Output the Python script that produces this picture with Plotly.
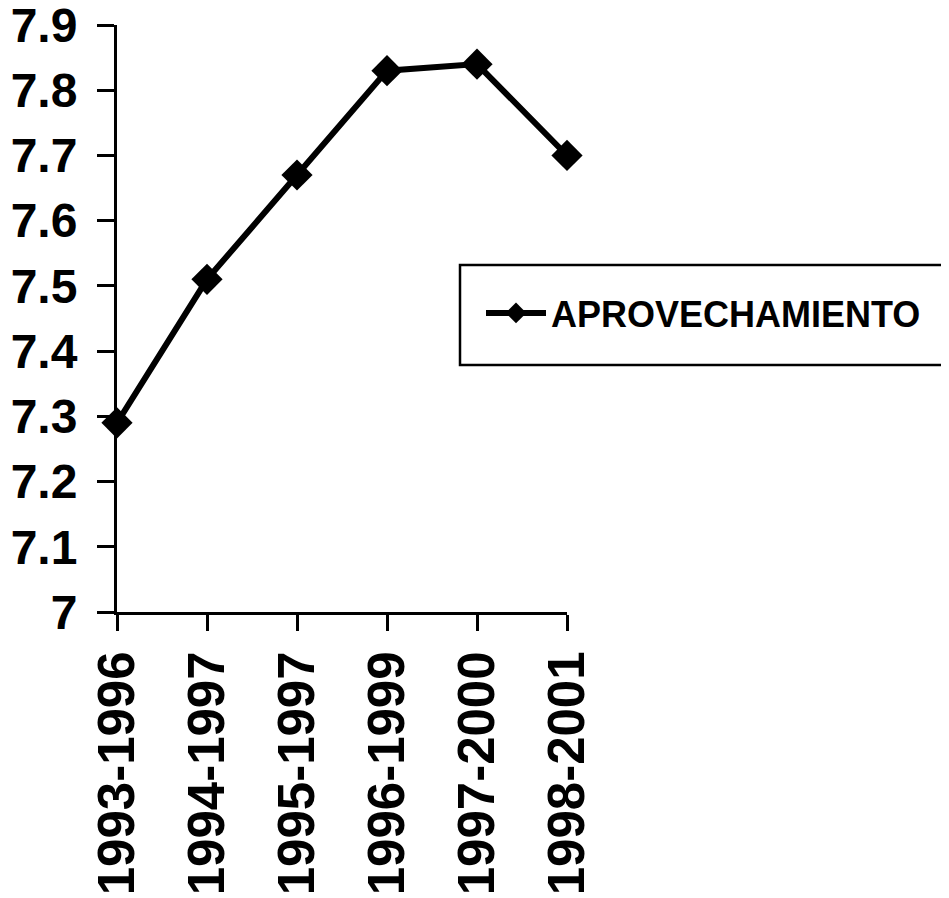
import plotly.graph_objects as go

categories = ["1993-1996", "1994-1997", "1995-1997", "1996-1999", "1997-2000", "1998-2001"]
values = [7.29, 7.51, 7.67, 7.83, 7.84, 7.70]
series_name = "APROVECHAMIENTO"
y_ticks = [7, 7.1, 7.2, 7.3, 7.4, 7.5, 7.6, 7.7, 7.8, 7.9]
y_tick_labels = ["7", "7.1", "7.2", "7.3", "7.4", "7.5", "7.6", "7.7", "7.8", "7.9"]

FONT = "Liberation Sans, Arial, sans-serif"

# page body has an 8px margin; work in window pixels minus 8
OFF = 8
L, T, PW, PH = 117 - OFF, 25 - OFF, 450, 587
W, H = 949 - OFF, 898 - OFF


def px_x(x):
    return (x - OFF - L) / PW


def px_y(y):
    return (T + PH - (y - OFF)) / PH


fig = go.Figure()
fig.add_trace(go.Scatter(
    x=categories, y=values, name=series_name, mode="lines+markers",
    line=dict(color="black", width=6),
    marker=dict(symbol="diamond", size=24, color="black"),
    cliponaxis=False,
))

# legend frame
fig.add_shape(type="rect", xref="paper", yref="paper",
              x0=px_x(460), x1=px_x(943), y0=px_y(365), y1=px_y(265),
              line=dict(color="black", width=2.5), fillcolor="rgba(0,0,0,0)")

fig.update_layout(
    width=W, height=H,
    margin=dict(l=L, r=W - L - PW, t=T, b=H - T - PH, pad=0),
    paper_bgcolor="white", plot_bgcolor="white",
    showlegend=True,
    legend=dict(x=px_x(481), xanchor="left", y=px_y(313), yanchor="middle",
                font=dict(family=FONT, size=36, color="black", weight="bold"),
                bgcolor="rgba(0,0,0,0)", borderwidth=0, itemwidth=60),
    xaxis=dict(type="category", range=[0, 5], showgrid=False, showline=True,
               linecolor="black", linewidth=3, ticks="outside", ticklen=16,
               tickwidth=3, tickcolor="black", tickangle=-90,
               ticklabelstandoff=0, automargin=False, ticklabeloverflow="allow",
               tickfont=dict(family=FONT, size=51, color="black", weight="bold"),
               zeroline=False),
    yaxis=dict(range=[7, 7.9], tickvals=y_ticks, ticktext=y_tick_labels,
               showgrid=False, showline=True, linecolor="black", linewidth=3,
               ticks="outside", ticklen=17, tickwidth=3, tickcolor="black",
               ticklabelstandoff=10, automargin=False, ticklabeloverflow="allow",
               tickfont=dict(family=FONT, size=48, color="black", weight="bold"),
               zeroline=False),
)

fig.write_html("out.html")
